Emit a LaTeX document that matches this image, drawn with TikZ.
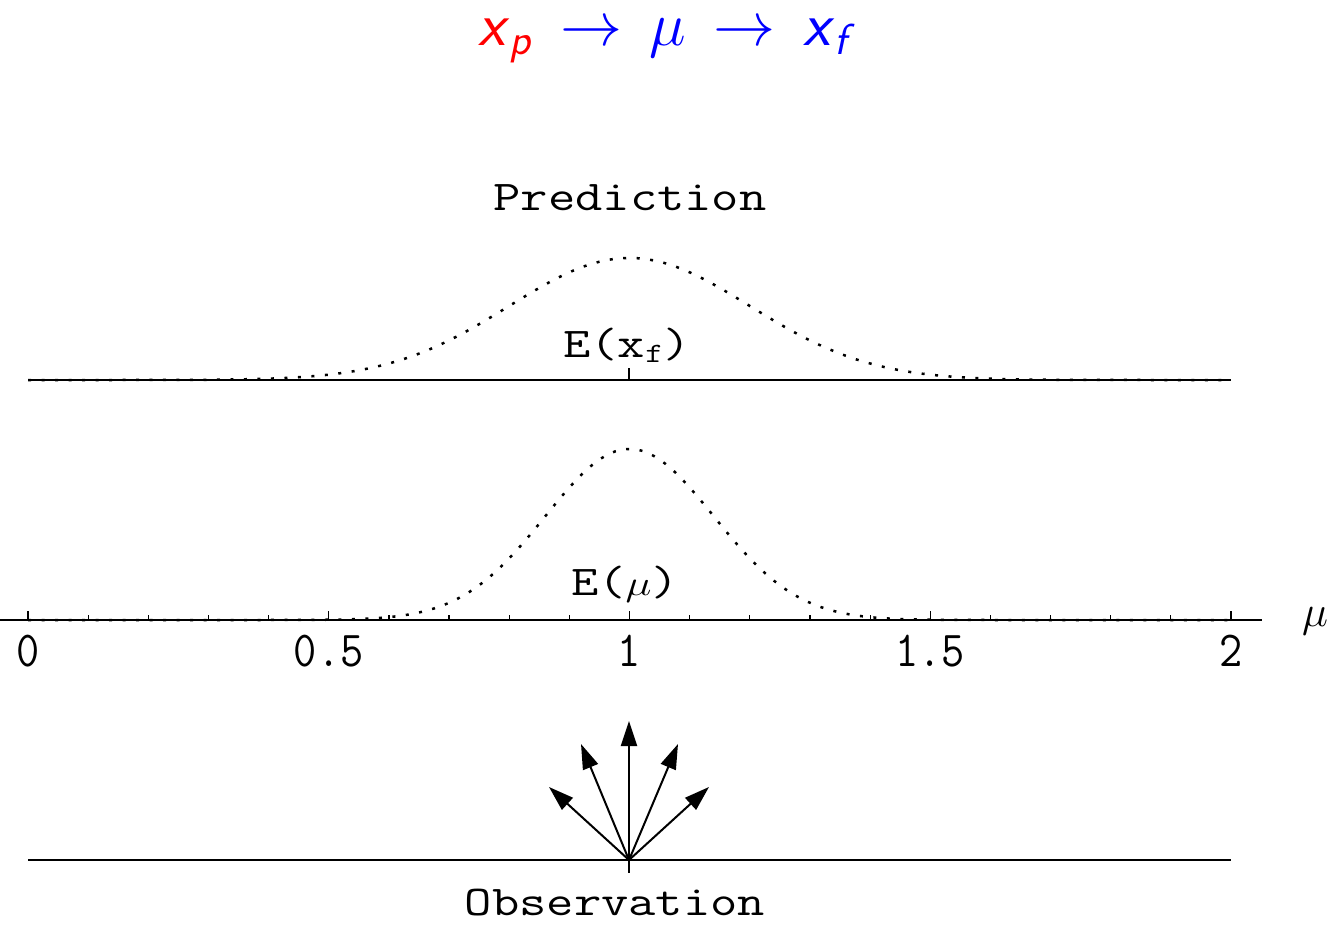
\RequirePackage{fix-cm}
\documentclass[tikz,border=0pt]{standalone}
\usepackage{amsmath}
\usepackage{fontspec}
\usetikzlibrary{arrows.meta}
\begin{document}
\begin{tikzpicture}[x=1pt,y=-1pt,
  baseline/.style={line width=2.4pt},
  curve/.style={line width=2.5pt,dash pattern=on 3pt off 10.5pt},
  ticklbl/.style={font=\ttfamily\fontsize{45}{50}\selectfont,yscale=1.12,inner sep=0pt},
  bigtxt/.style={font=\ttfamily\fontsize{53}{58}\selectfont,yscale=0.8,inner sep=0pt},
  obsarrow/.style={line width=2pt,-{Triangle[length=25pt,width=16pt]}}]
\useasboundingbox (0,0) rectangle (1342,932);
% title
\node[inner sep=0pt,anchor=base,font=\fontsize{62}{70}\selectfont,text=blue] (title) at (667,45)
  {$\textcolor{red}{\textsf{\textit{x}}_{\textsf{\textit{p}}}}\,\rightarrow\,\mu\,\rightarrow\,\textsf{\textit{x}}_{\textsf{\textit{f}}}$};
% prediction
\node[bigtxt,anchor=base] (pred) at (630,210) {Prediction};
\coordinate (pl) at (28,380);
\coordinate (pr) at (1231,380);
\coordinate (pt) at (629,368);
\coordinate (pc) at (629,380);
\draw[curve] plot[domain=0:2,samples=220] ({28+601.5*\x},{380-122*exp(-((\x-1)^2)/0.08)});
\draw[baseline] (pl) -- (pr);
\draw[line width=1.5pt] (pc) -- (pt);
\node[bigtxt,anchor=base] (exf) at (627,357) {E(x{\fontsize{35}{38}\selectfont\raisebox{-0.18em}{f}})};
% mu axis
\coordinate (al) at (0,620);
\coordinate (ar) at (1262,620);
\draw[curve] plot[domain=0:2,samples=220] ({28+601.5*\x},{620-171*exp(-((\x-1)^2)/0.0392)});
\draw[line width=1.6pt] (al) -- (ar);
\foreach \i in {0,...,20}{
  \pgfmathsetmacro{\xx}{28+60.15*\i}
  \draw[line width=1.2pt] (\xx,620) -- (\xx,614.5);
}
\foreach \i in {0,5,...,20}{
  \pgfmathsetmacro{\xx}{28+60.15*\i}
  \draw[line width=1.2pt] (\xx,620) -- (\xx,611);
}
\node[ticklbl] (t0) at (28,651) {0};
\node[ticklbl] (t05) at (328.75,651) {0.5};
\node[ticklbl] (t1) at (629.5,651) {1};
\node[ticklbl] (t15) at (930.25,651) {1.5};
\node[ticklbl] (t2) at (1231,651) {2};
\node[inner sep=0pt,font=\fontsize{44}{48}\selectfont] (mulbl) at (1315,621) {$\mu$};
\node[bigtxt,anchor=base] (emu) at (625,595) {E({\fontsize{44}{48}\selectfont$\mu$})};
% observation
\coordinate (ol) at (28,860);
\coordinate (or) at (1231,860);
\coordinate (oc) at (629,860);
\coordinate (ot) at (629,873);
\draw[baseline] (ol) -- (or);
\draw[line width=1.5pt] (oc) -- (ot);
\coordinate (a1) at (629,721);
\coordinate (a2) at (581,744);
\coordinate (a3) at (549,787);
\coordinate (a4) at (678,744);
\coordinate (a5) at (709,787);
\foreach \a in {a1,a2,a3,a4,a5}{\draw[obsarrow] (oc) -- (\a);}
\node[bigtxt,anchor=base] (obs) at (615,915) {Observation};
\end{tikzpicture}
\end{document}
